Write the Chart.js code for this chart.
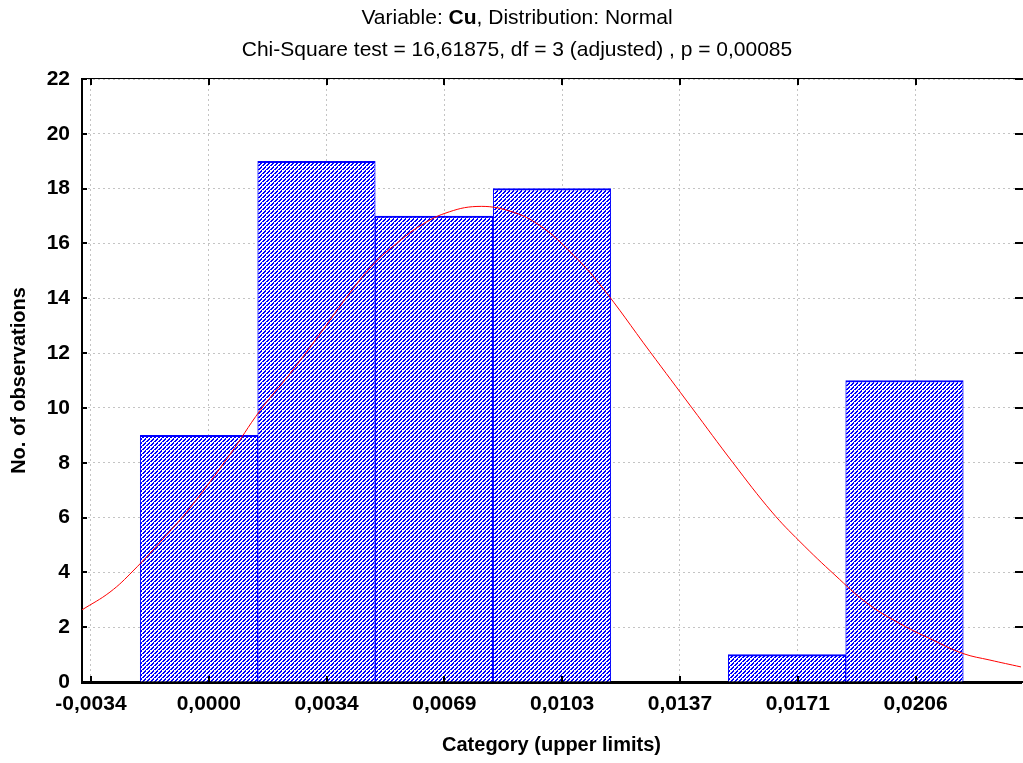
<!DOCTYPE html>
<html lang="en">
<head>
<meta charset="UTF-8">
<title>Variable: Cu, Distribution: Normal</title>
<script src="https://cdn.jsdelivr.net/npm/chart.js"></script>
<style>
    html, body { margin: 0; padding: 0; background: #fff; }
    #wrap { width: 1023px; height: 763px; }
</style>
</head>
<body>
<div id="wrap"><canvas id="histChart" width="1023" height="763"></canvas></div>
<script>
// histogram bins: lower limit of first bin, then the upper limits
const binEdges = [-0.002005, 0.001434, 0.004844, 0.008284, 0.011723, 0.015133, 0.018572, 0.021982];
const counts = [9, 19, 17, 18, 0, 1, 11];

// x axis ticks
const tickValues = [-0.0034333, 0, 0.0034333, 0.0068667, 0.0103, 0.0137333, 0.0171667, 0.0206];
const tickLabels = ['-0,0034', '0,0000', '0,0034', '0,0069', '0,0103', '0,0137', '0,0171', '0,0206'];

// expected normal curve
const curveX = [-0.003696, -0.002880, -0.002209, -0.001277, -0.000548, 0.000618, 0.001492, 0.002367,
    0.003241, 0.004115, 0.004844, 0.005573, 0.006155, 0.006884, 0.007817, 0.008778, 0.009653, 0.010527,
    0.011402, 0.012859, 0.014083, 0.015278, 0.016415, 0.017231, 0.018251, 0.019183, 0.020145, 0.021107,
    0.021981, 0.022768, 0.023672];
const curveY = [2.63, 3.28, 4.05, 5.3, 6.35, 8.3, 9.9, 11.25,
    12.7, 14.2, 15.3, 16.1, 16.64, 17.1, 17.35, 17.18, 16.65, 15.7,
    14.5, 12.05, 10.0, 8.0, 6.2, 5.12, 3.9, 2.88, 2.13, 1.53,
    1.04, 0.8, 0.55];

const FONT = '"Liberation Sans", Arial, sans-serif';

const ctx = document.getElementById('histChart').getContext('2d');

// blue hatch fill like the original
function hatchPattern() {
    const tile = document.createElement('canvas');
    tile.width = 4; tile.height = 4;
    const t = tile.getContext('2d');
    t.fillStyle = 'rgb(255,255,255)';
    t.fillRect(0, 0, 4, 4);
    t.fillStyle = 'rgb(0,0,255)';
    for (let i = 0; i < 4; i++) {
        t.fillRect(3 - i, i, 1, 1);
        if (i !== 2) t.fillRect((4 - i) % 4, i, 1, 1);
    }
    return ctx.createPattern(tile, 'repeat');
}

const barPoints = counts.map((c, i) => ({ x: (binEdges[i] + binEdges[i + 1]) / 2, y: c }));
const curvePoints = curveX.map((x, i) => ({ x: x, y: curveY[i] }));

// two title lines, "Cu" in bold
const titlePlugin = {
    id: 'titleLines',
    afterDraw(chart) {
        const c = chart.ctx;
        const cx = 517;
        c.save();
        c.fillStyle = '#000';
        c.textBaseline = 'middle';
        c.textAlign = 'left';
        const parts = [
            ['Variable: ', '21px ' + FONT],
            ['Cu', 'bold 21px ' + FONT],
            [', Distribution: Normal', '21px ' + FONT]
        ];
        let total = 0;
        parts.forEach(p => { c.font = p[1]; total += c.measureText(p[0]).width; });
        let x = cx - total / 2;
        parts.forEach(p => {
            c.font = p[1];
            c.fillText(p[0], x, 18);
            x += c.measureText(p[0]).width;
        });
        c.font = '21px ' + FONT;
        c.textAlign = 'center';
        c.fillText('Chi-Square test = 16,61875, df = 3 (adjusted) , p = 0,00085', cx, 50);
        c.restore();
    }
};

// frame top line and small inner tick marks on all four sides
const framePlugin = {
    id: 'frameTicks',
    afterDatasetsDraw(chart) {
        const c = chart.ctx;
        const a = chart.chartArea;
        const xs = chart.scales.x, ys = chart.scales.y;
        c.save();
        c.fillStyle = '#000';
        c.fillRect(a.left, a.top - 1, a.right - a.left + 2, 1);
        ys.ticks.forEach(t => {
            const y = Math.round(ys.getPixelForValue(t.value));
            c.fillRect(a.left, y - 1, 5, 2);
            c.fillRect(a.right - 6, y - 1, 8, 2);
        });
        xs.ticks.forEach(t => {
            const x = Math.round(xs.getPixelForValue(t.value));
            c.fillRect(x - 1, a.bottom - 6, 2, 6);
            c.fillRect(x - 1, a.top, 2, 6);
        });
        c.restore();
    }
};

const chart = new Chart(ctx, {
    data: {
        datasets: [
            {
                type: 'line',
                data: curvePoints,
                borderColor: '#ff0000',
                borderWidth: 1,
                pointRadius: 0,
                tension: 0.4,
                order: 0
            },
            {
                type: 'bar',
                data: barPoints,
                backgroundColor: hatchPattern(),
                borderColor: '#0000ff',
                borderWidth: { top: 2, left: 1, right: 1, bottom: 0 },
                borderSkipped: false,
                barPercentage: 1,
                categoryPercentage: 1,
                order: 1
            }
        ]
    },
    options: {
        responsive: false,
        animation: false,
        events: [],
        layout: { padding: { top: 79, right: 2, left: 0, bottom: 0 } },
        plugins: { legend: { display: false }, tooltip: { enabled: false }, title: { display: false } },
        scales: {
            x: {
                type: 'linear',
                offset: false,
                min: -0.003695,
                max: 0.023673,
                afterBuildTicks: scale => { scale.ticks = tickValues.map(v => ({ value: v })); },
                afterFit: scale => { scale.height = 81; },
                ticks: {
                    color: '#000',
                    padding: 10,
                    maxRotation: 0,
                    autoSkip: false,
                    font: { family: FONT, size: 21, weight: 'bold' },
                    callback: (v, i) => tickLabels[i]
                },
                grid: { color: '#c4c4c4', drawTicks: false, offset: false },
                border: { display: true, color: '#000', width: 3, dash: [2, 3] },
                title: {
                    display: true,
                    text: 'Category (upper limits)',
                    color: '#000',
                    padding: { top: 0, bottom: 6 },
                    font: { family: FONT, size: 20, weight: 'bold' }
                }
            },
            y: {
                min: 0,
                max: 22,
                afterFit: scale => { scale.width = 82; },
                ticks: {
                    stepSize: 2,
                    color: '#000',
                    padding: 12,
                    font: { family: FONT, size: 21, weight: 'bold' }
                },
                grid: { color: '#c4c4c4', drawTicks: false },
                border: { display: true, color: '#000', width: 2, dash: [2, 3] },
                title: {
                    display: true,
                    text: 'No. of observations',
                    color: '#000',
                    padding: { top: 7, bottom: 0 },
                    font: { family: FONT, size: 20, weight: 'bold' }
                }
            }
        }
    },
    plugins: [titlePlugin, framePlugin]
});
</script>
</body>
</html>
